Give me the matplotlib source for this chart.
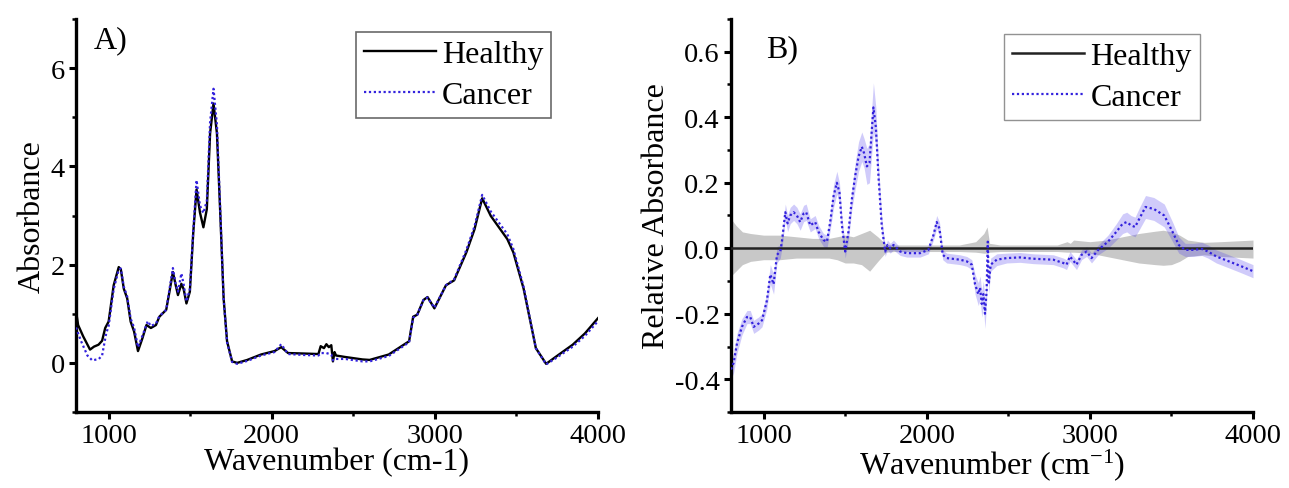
import numpy as np
import matplotlib
matplotlib.use("Agg")
import matplotlib.pyplot as plt
from matplotlib.ticker import MultipleLocator, FuncFormatter

plt.rcParams['font.family'] = ['Liberation Serif', 'DejaVu Serif']
plt.rcParams['axes.unicode_minus'] = False
plt.rcParams['mathtext.fontset'] = 'custom'
plt.rcParams['mathtext.rm'] = 'Liberation Serif'
plt.rcParams['mathtext.it'] = 'Liberation Serif:italic'

# ---------------- Panel A data ----------------
healthy_x = [800, 813, 844, 886, 910, 938, 960, 979, 1000, 1031, 1062, 1075, 1093, 1114, 1135, 1156,
             1180, 1207, 1232, 1259, 1290, 1311, 1353, 1373, 1394, 1410, 1425, 1446, 1460, 1477, 1498,
             1519, 1539, 1560, 1581, 1602, 1622, 1643, 1664, 1685, 1705, 1726, 1757, 1788, 1850, 1934,
             2017, 2058, 2100, 2200, 2286, 2300, 2320, 2335, 2350, 2365, 2375, 2385, 2394, 2450, 2556,
             2600, 2717, 2842, 2867, 2892, 2930, 2955, 2997, 3068, 3118, 3193, 3243, 3290, 3343, 3444,
             3481, 3544, 3619, 3682, 3744, 3845, 3920, 4000]
healthy_y = [1.06, 0.77, 0.54, 0.27, 0.33, 0.37, 0.45, 0.71, 0.84, 1.58, 1.95, 1.90, 1.51, 1.31, 0.84, 0.64,
             0.24, 0.50, 0.77, 0.71, 0.77, 0.94, 1.08, 1.45, 1.85, 1.60, 1.38, 1.61, 1.50, 1.21, 1.45,
             2.66, 3.53, 3.06, 2.76, 3.13, 4.67, 5.28, 4.67, 2.99, 1.31, 0.44, 0.03, 0.00, 0.06, 0.17,
             0.24, 0.32, 0.20, 0.19, 0.18, 0.34, 0.30, 0.38, 0.32, 0.36, 0.03, 0.22, 0.15, 0.12, 0.07,
             0.06, 0.17, 0.44, 0.94, 0.98, 1.28, 1.34, 1.11, 1.58, 1.68, 2.25, 2.72, 3.35, 2.99, 2.52,
             2.25, 1.51, 0.30, -0.02, 0.13, 0.37, 0.60, 0.91]

cancer_x = [800, 830, 870, 900, 940, 960, 985, 1000, 1031, 1062, 1075, 1093, 1114, 1135, 1156, 1180,
            1207, 1240, 1259, 1290, 1311, 1353, 1373, 1394, 1410, 1425, 1446, 1460, 1477, 1498, 1519,
            1539, 1560, 1581, 1602, 1622, 1643, 1664, 1685, 1705, 1726, 1757, 1788, 1850, 1934, 2017,
            2058, 2100, 2200, 2286, 2300, 2335, 2365, 2375, 2394, 2450, 2556, 2600, 2717, 2842, 2867,
            2892, 2930, 2955, 2997, 3068, 3118, 3193, 3243, 3290, 3343, 3444, 3481, 3544, 3619, 3682,
            3744, 3845, 3920, 4000]
cancer_y = [0.72, 0.45, 0.15, 0.05, 0.08, 0.15, 0.60, 0.75, 1.50, 1.90, 1.92, 1.55, 1.35, 0.90, 0.72, 0.32,
            0.55, 0.85, 0.75, 0.80, 0.95, 1.08, 1.50, 1.93, 1.62, 1.45, 1.82, 1.60, 1.25, 1.50, 2.70,
            3.72, 3.20, 3.05, 3.30, 4.90, 5.58, 4.85, 3.05, 1.30, 0.42, 0.02, -0.02, 0.04, 0.15, 0.22,
            0.38, 0.18, 0.16, 0.15, 0.20, 0.20, 0.17, 0.05, 0.08, 0.08, 0.03, 0.03, 0.14, 0.42, 0.92,
            0.98, 1.28, 1.33, 1.12, 1.58, 1.70, 2.30, 2.78, 3.42, 3.08, 2.62, 2.32, 1.55, 0.30, -0.03,
            0.10, 0.33, 0.55, 0.85]

# ---------------- Panel B data ----------------
rel_x = [800, 816, 837, 867, 898, 918, 939, 969, 990, 1020, 1041, 1061, 1082, 1102, 1112, 1133, 1147,
         1163, 1184, 1204, 1224, 1245, 1261, 1286, 1316, 1337, 1367, 1388, 1408, 1429, 1449, 1465,
         1480, 1500, 1520, 1541, 1561, 1582, 1602, 1616, 1633, 1649, 1663, 1673, 1688, 1704, 1724,
         1745, 1759, 1776, 1796, 1837, 1878, 1959, 2010, 2041, 2061, 2078, 2098, 2122, 2204, 2245,
         2276, 2296, 2316, 2327, 2337, 2347, 2357, 2367, 2374, 2380, 2392, 2429, 2490, 2571, 2653,
         2776, 2837, 2857, 2878, 2918, 2949, 2980, 3010, 3051, 3111, 3162, 3201, 3226, 3252, 3277,
         3303, 3341, 3392, 3456, 3507, 3545, 3584, 3635, 3686, 3724, 3775, 3852, 3928, 4000]
rel_cancer = [-0.37, -0.35, -0.29, -0.24, -0.21, -0.21, -0.24, -0.23, -0.22, -0.16, -0.08, -0.11, -0.02,
              -0.01, 0.02, 0.11, 0.076,
              0.10, 0.11, 0.10, 0.08, 0.106, 0.11, 0.07, 0.08, 0.05, 0.025, 0.02, 0.08, 0.16, 0.20, 0.17,
              0.07, -0.01, 0.05, 0.15, 0.22, 0.28, 0.31, 0.29, 0.25, 0.26, 0.36, 0.43, 0.37, 0.22, 0.07,
              -0.01, 0.01, 0.00, 0.01, -0.01, -0.015, -0.015, -0.005, 0.04, 0.08, 0.06, -0.02, -0.03,
              -0.035, -0.04,
              -0.05, -0.11, -0.14, -0.12, -0.17, -0.14, -0.20, -0.13, 0.02, -0.11, -0.05, -0.035, -0.03,
              -0.028, -0.032,
              -0.035, -0.045, -0.05, -0.025, -0.05, -0.02, -0.01, -0.03, -0.005, 0.02, 0.05, 0.075, 0.08,
              0.07, 0.065,
              0.09, 0.126, 0.12, 0.10, 0.05, 0.01, -0.005, -0.005, -0.002, -0.01, -0.025, -0.04, -0.055,
              -0.07]
rel_cancer_err = [0.03, 0.03, 0.03, 0.025, 0.02, 0.02, 0.02, 0.02, 0.02, 0.025, 0.03, 0.03, 0.025,
                  0.02, 0.02, 0.025, 0.025,
                  0.025, 0.025, 0.025, 0.025, 0.025, 0.025, 0.02, 0.02, 0.02, 0.02, 0.02, 0.025, 0.035,
                  0.035, 0.03,
                  0.025, 0.02, 0.025, 0.03, 0.04, 0.045, 0.045, 0.045, 0.055, 0.06, 0.07, 0.075, 0.06,
                  0.04, 0.025,
                  0.015, 0.015, 0.015, 0.015, 0.012, 0.012, 0.012, 0.012, 0.015, 0.02, 0.02, 0.015,
                  0.015, 0.015, 0.015,
                  0.015, 0.03, 0.035, 0.035, 0.04, 0.04, 0.045, 0.035, 0.02, 0.03, 0.02, 0.018, 0.015,
                  0.015, 0.015,
                  0.015, 0.015, 0.015, 0.015, 0.015, 0.015, 0.015, 0.015, 0.015, 0.02, 0.025, 0.03,
                  0.03, 0.03, 0.03,
                  0.033, 0.035, 0.035, 0.035, 0.03, 0.025, 0.02, 0.02, 0.02, 0.02, 0.02, 0.02, 0.02,
                  0.02]

healthy_sd_x = [800, 830, 870, 920, 1000, 1100, 1200, 1300, 1400, 1450, 1500, 1550, 1600, 1650, 1700,
                1750, 1800, 2000, 2200, 2300, 2350, 2370, 2385, 2450, 2800, 2860, 2880, 2900, 3000,
                3100, 3200, 3300, 3400, 3450, 3500, 3550, 3600, 3700, 3800, 4000]
healthy_sd_up = [0.09, 0.07, 0.05, 0.045, 0.04, 0.04, 0.035, 0.03, 0.03, 0.035, 0.04, 0.035, 0.045,
                 0.055, 0.035, 0.012, 0.01, 0.01, 0.01, 0.02, 0.045, 0.065, 0.015, 0.01, 0.01, 0.02,
                 0.015, 0.025, 0.02, 0.025, 0.035, 0.045, 0.052, 0.055, 0.05, 0.04, 0.025, 0.018,
                 0.02, 0.025]
healthy_sd_lo = [-0.085, -0.07, -0.05, -0.04, -0.035, -0.035, -0.03, -0.03, -0.03, -0.035, -0.045,
                 -0.045, -0.05, -0.07, -0.04, -0.012, -0.01, -0.01, -0.01, -0.012, -0.015, -0.015,
                 -0.012, -0.01, -0.01, -0.012, -0.012, -0.012, -0.015, -0.025, -0.035, -0.045,
                 -0.05, -0.052, -0.05, -0.04, -0.025, -0.02, -0.025, -0.03]

BLUE = '#3322dd'
TICK_FS = 20.5
LAB_FS = 23

fig = plt.figure(figsize=(12.89, 4.89), dpi=100)
axA = fig.add_axes([76/1289, 76/489, 522/1289, 393/489])
axB = fig.add_axes([731/1289, 76/489, 522/1289, 393/489])


def style(ax):
    for s in ['top', 'right']:
        ax.spines[s].set_visible(False)
    for s in ['left', 'bottom']:
        ax.spines[s].set_linewidth(2.4)
    ax.tick_params(which='major', direction='out', length=5, width=2.2, labelsize=TICK_FS, pad=3)
    ax.tick_params(which='minor', direction='out', length=3, width=1.8)
    ax.xaxis.set_major_locator(MultipleLocator(1000))
    ax.xaxis.set_minor_locator(MultipleLocator(500))
    ax.set_xlim(800, 4000)


def add_legend(ax, x0, y0, edge, lw):
    leg = ax.legend(loc='upper left', bbox_to_anchor=(x0, y0), fontsize=LAB_FS, frameon=True,
                    fancybox=False, borderaxespad=0, handlelength=2.25, handletextpad=0.2,
                    borderpad=0.25, labelspacing=0.35)
    leg.get_frame().set_edgecolor(edge)
    leg.get_frame().set_linewidth(lw)
    return leg


# Panel A
style(axA)
axA.plot(healthy_x, healthy_y, color='black', lw=1.7, label='Healthy', zorder=3)
axA.plot(cancer_x, cancer_y, color=BLUE, lw=1.6, ls=(0, (1, 1.2)), label='Cancer', zorder=4)
axA.set_ylim(-1, 7)
axA.yaxis.set_major_locator(MultipleLocator(2))
axA.yaxis.set_minor_locator(MultipleLocator(1))
axA.set_xlabel('Wavenumber (cm-1)', fontsize=LAB_FS, labelpad=-1)
axA.set_ylabel('Absorbance', fontsize=LAB_FS, labelpad=3)
axA.text(0.034, 0.985, 'A)', transform=axA.transAxes, fontsize=LAB_FS, va='top', ha='left')
add_legend(axA, 0.536, 0.967, '#444444', 1.2)

# Panel B
style(axB)
axB.fill_between(healthy_sd_x, healthy_sd_lo, healthy_sd_up, color='#c8c8c8', lw=0, zorder=1)
lo = np.array(rel_cancer) - np.array(rel_cancer_err)
hi = np.array(rel_cancer) + np.array(rel_cancer_err)
axB.fill_between(rel_x, lo, hi, color='#4433ee', alpha=0.25, lw=0, zorder=2)
axB.axhline(0, color='#222222', lw=1.8, label='Healthy', zorder=3)
axB.plot(rel_x, rel_cancer, color=BLUE, lw=1.6, ls=(0, (1, 1.2)), label='Cancer', zorder=4)
axB.set_ylim(-0.5, 0.7)
axB.yaxis.set_major_locator(MultipleLocator(0.2))
axB.yaxis.set_minor_locator(MultipleLocator(0.1))
axB.yaxis.set_major_formatter(FuncFormatter(lambda v, p: ('%.1f' % v).replace('-0.0', '0.0')))
axB.set_xlabel('Wavenumber (cm$^{\\mathrm{-1}}$)', fontsize=LAB_FS, labelpad=-1)
axB.set_ylabel('Relative Absorbance', fontsize=LAB_FS, labelpad=3)
axB.text(0.067, 0.962, 'B)', transform=axB.transAxes, fontsize=LAB_FS, va='top', ha='left')
add_legend(axB, 0.523, 0.962, '#777777', 1.0)

fig.savefig('out.png', dpi=100)
